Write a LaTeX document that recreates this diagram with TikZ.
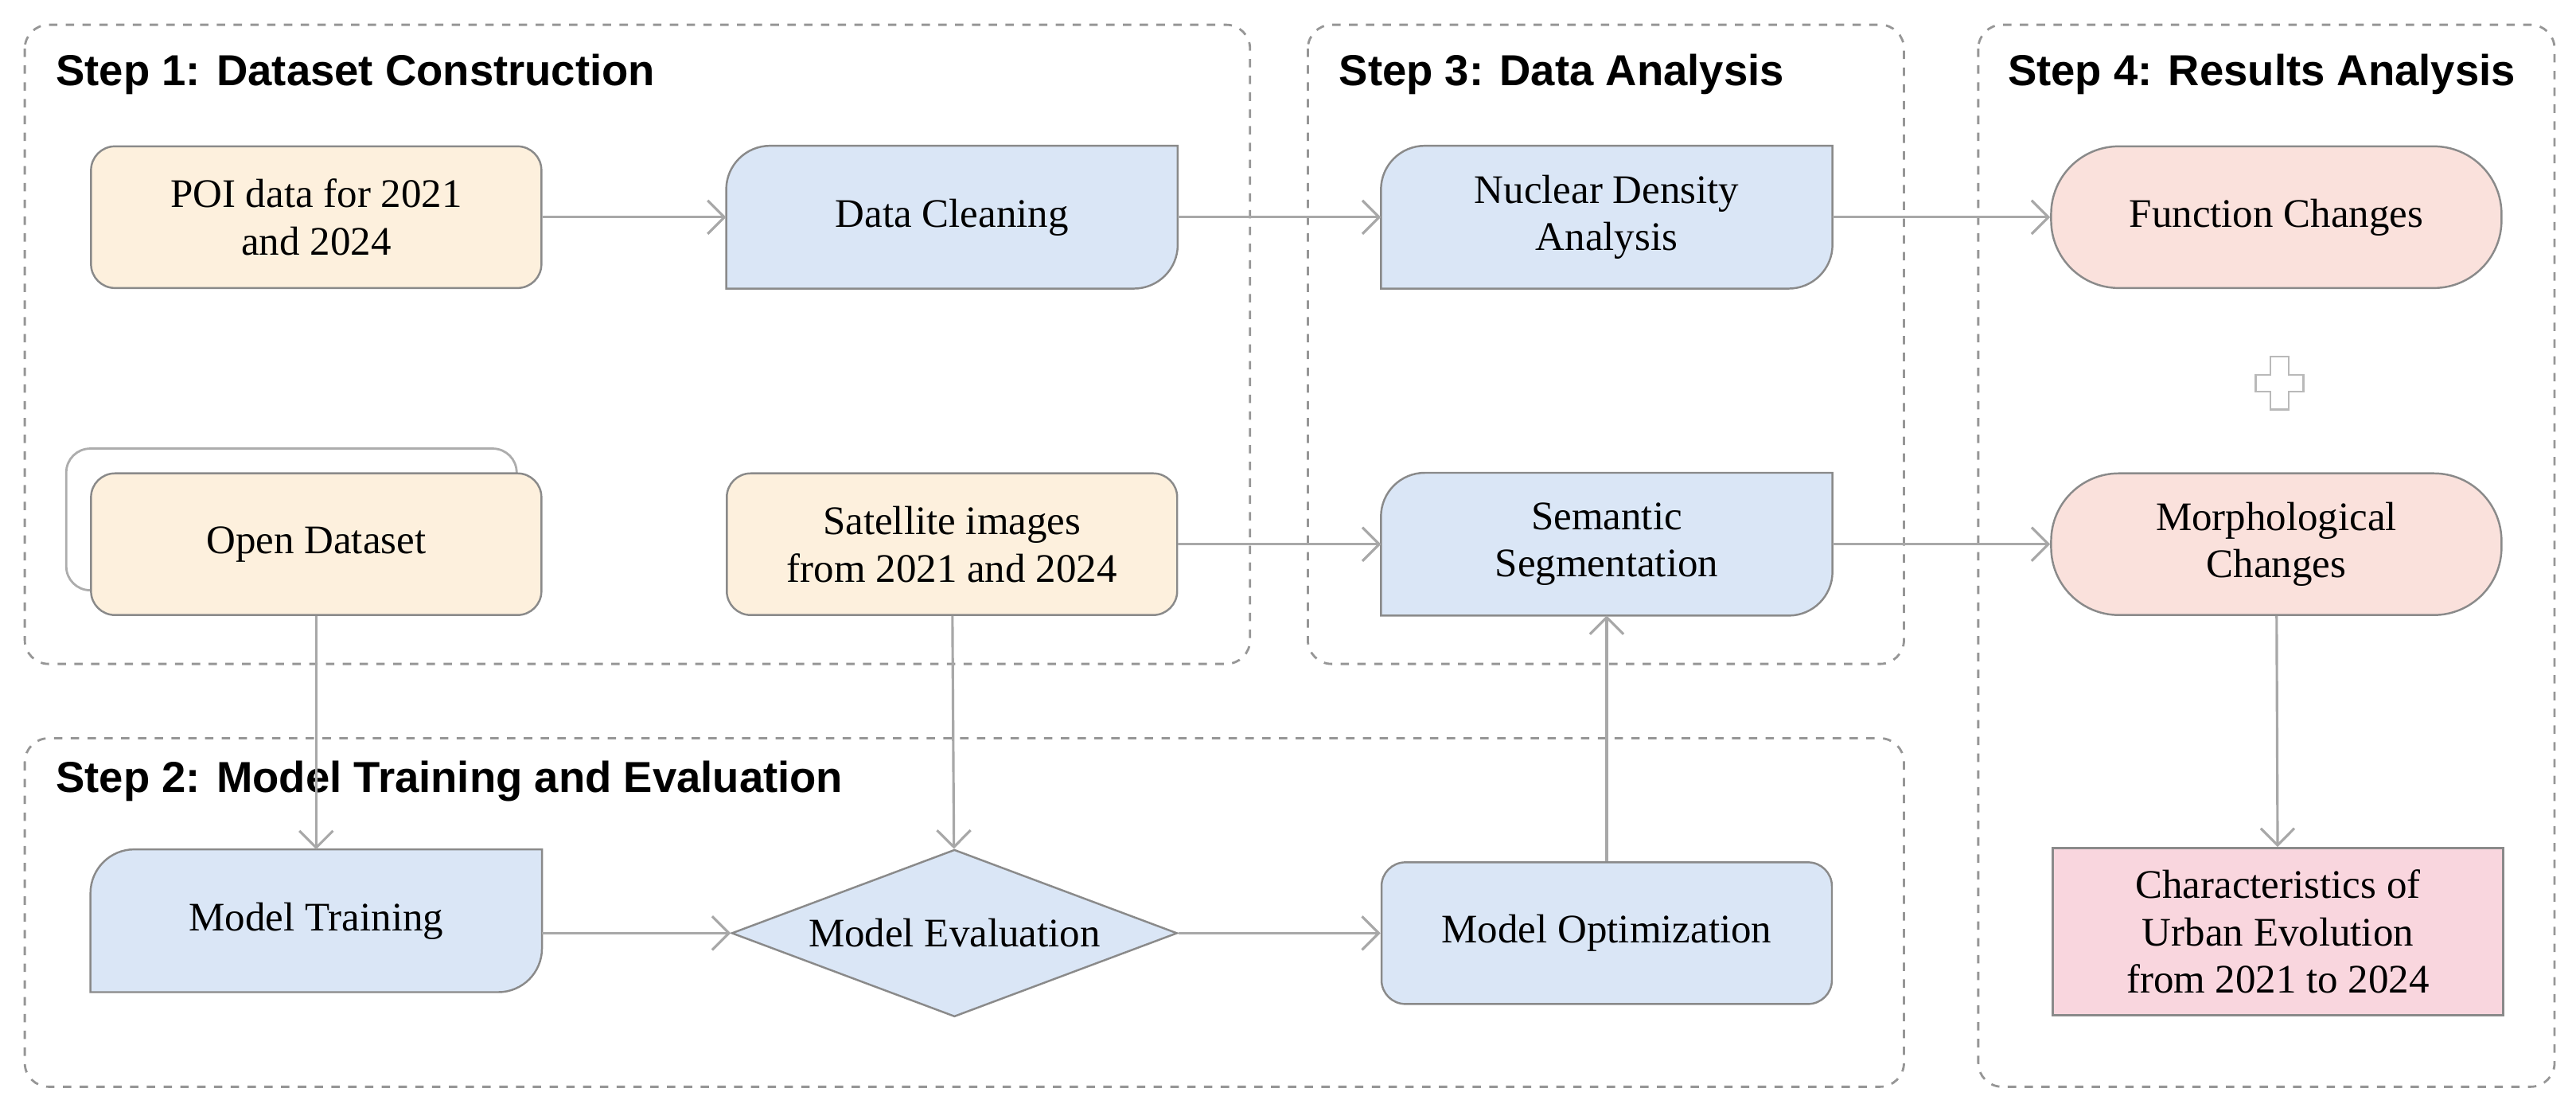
\documentclass[tikz,border=0pt]{standalone}
\usepackage{fontspec}
\setmainfont{Liberation Serif}
\newfontfamily\titlefont{Liberation Sans}
\usetikzlibrary{shapes.geometric,arrows.meta}
\definecolor{orF}{HTML}{FDF0DD}
\definecolor{blF}{HTML}{DAE6F6}
\definecolor{pkF}{HTML}{FAE1DC}
\definecolor{pkR}{HTML}{F9D6DE}
\definecolor{edge}{HTML}{8A8A8A}
\definecolor{arr}{HTML}{A8A8A8}
\begin{document}
\begin{tikzpicture}[x=0.02075cm,y=-0.02075cm,
 frame/.style={draw=edge!90,dashed,line width=0.8pt,rounded corners=0.3cm},
 ttl/.style={anchor=west,font=\titlefont\bfseries\fontsize{15.5}{18}\selectfont},
 base/.style={minimum width=5.66cm,minimum height=1.78cm,align=center,font=\fontsize{14.5}{17}\selectfont,inner sep=0pt},
 orng/.style={base,draw=edge,fill=orF,rounded corners=0.3cm,line width=0.7pt},
 blue/.style={base},
 shp/.style={draw=edge,fill=blF,line width=0.7pt},
 pill/.style={base,draw=edge,fill=pkF,rounded corners=0.85cm,line width=0.7pt},
 ar/.style={draw=arr,line width=0.9pt,-{Straight Barb[length=6pt,width=12pt]}}]
\useasboundingbox (0,0) rectangle (1560,666);
\newcommand\bshape[1]{\filldraw[shp] (#1.north east) -- ([xshift=0.55cm]#1.north west) arc[start angle=90,end angle=180,radius=0.55cm] -- (#1.south west) -- ([xshift=-0.55cm]#1.south east) arc[start angle=270,end angle=360,radius=0.55cm] -- cycle;}
% frames
\draw[frame] (15,15) rectangle (757,402);
\draw[frame] (792,15) rectangle (1153,402);
\draw[frame] (1198,15) rectangle (1547,658);
\draw[frame] (15,447) rectangle (1153,658);
\node[ttl] (t1) at (28,45) {Step 1: Dataset Construction};
\node[ttl] (t3) at (805,45) {Step 3: Data Analysis};
\node[ttl] (t4) at (1210,45) {Step 4: Results Analysis};
\node[ttl] (t2) at (28,473) {Step 2: Model Training and Evaluation};
% nodes
\node[orng] (poi) at (191.5,131.5) {POI data for 2021\\and 2024};
\node[blue] (dc) at (576.5,131.5) {};
\bshape{dc}
\node[base] at (dc) {Data Cleaning};
\node[blue] (nd) at (973,131.5) {};
\bshape{nd}
\node[base] at (nd) {Nuclear Density\\Analysis};
\node[pill] (fc) at (1378.5,131.5) {Function Changes};
\node[draw=edge!70,line width=0.8pt,fill=white,rounded corners=0.3cm,minimum width=5.66cm,minimum height=1.78cm] (odb) at (176.5,314.5) {};
\node[orng] (od) at (191.5,329.5) {Open Dataset};
\node[orng] (sat) at (576.5,329.5) {Satellite images\\from 2021 and 2024};
\node[blue] (ss) at (973,329.5) {};
\bshape{ss}
\node[base] at (ss) {Semantic\\Segmentation};
\node[pill] (mc) at (1378.5,329.5) {Morphological\\Changes};
\node[blue] (mt) at (191.5,557.5) {};
\bshape{mt}
\node[base] at (mt) {Model Training};
\node[diamond,draw=edge,fill=blF,line width=0.7pt,minimum width=5.6cm,minimum height=2.1cm,aspect=2.7,inner sep=0pt,font=\fontsize{14.5}{17}\selectfont] (me) at (578,565) {Model Evaluation};
\node[base,draw=edge,fill=blF,rounded corners=0.3cm,line width=0.7pt] (mo) at (973,565) {Model Optimization};
\node[base,draw=edge,fill=pkR,rounded corners=0pt,line width=0.7pt,minimum height=2.1cm] (ch) at (1379.5,564) {Characteristics of\\Urban Evolution\\from 2021 to 2024};
% plus
\draw[draw=edge!60,line width=0.7pt,fill=white] (1375,216)--(1386,216)--(1386,227)--(1395,227)--(1395,237)--(1386,237)--(1386,248)--(1375,248)--(1375,237)--(1366,237)--(1366,227)--(1375,227)--cycle;
% arrows
\draw[ar] (poi) -- (dc);
\draw[ar] (dc) -- (nd);
\draw[ar] (nd) -- (fc);
\draw[ar] (sat) -- (ss);
\draw[ar] (ss) -- (mc);
\draw[ar] (od) -- (mt);
\draw[ar] (sat) -- (me);
\draw[ar] (mt.east |- me) -- (me);
\draw[ar] (me) -- (mo);
\draw[ar] (mo) -- (ss);
\draw[ar] (mc) -- (ch);
\end{tikzpicture}
\end{document}
